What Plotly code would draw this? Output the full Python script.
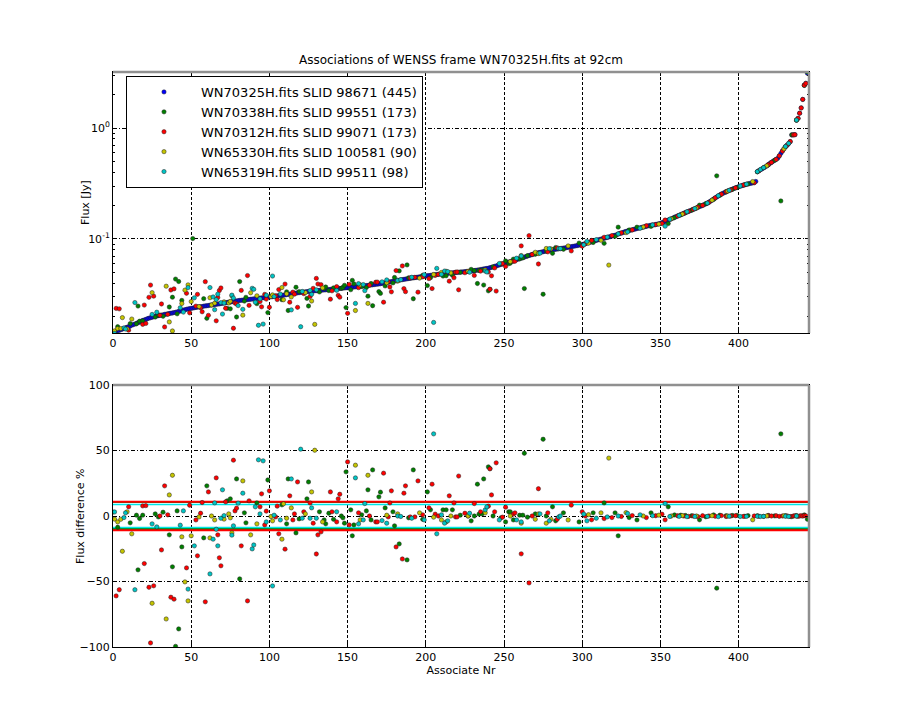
import math
import plotly.graph_objects as go

# ---------------- data ----------------
# Flux [Jy] of the WENSS frame sources (sorted), associate number = index
main_flux = [
    0.0143, 0.0145, 0.0147, 0.0149, 0.0150, 0.0152, 0.0154, 0.0156, 0.0158, 0.0160,
    0.0162, 0.0164, 0.0167, 0.0169, 0.0171, 0.0173, 0.0176, 0.0178, 0.0181, 0.0184,
    0.0186, 0.0188, 0.0191, 0.0193, 0.0195, 0.0197, 0.0199, 0.0201, 0.0202, 0.0204,
    0.0205, 0.0206, 0.0207, 0.0209, 0.0210, 0.0211, 0.0213, 0.0214, 0.0215, 0.0217,
    0.0218, 0.0220, 0.0222, 0.0224, 0.0226, 0.0228, 0.0230, 0.0232, 0.0234, 0.0235,
    0.0237, 0.0238, 0.0240, 0.0241, 0.0243, 0.0244, 0.0245, 0.0246, 0.0248, 0.0249,
    0.0250, 0.0251, 0.0253, 0.0254, 0.0255, 0.0256, 0.0258, 0.0259, 0.0260, 0.0262,
    0.0263, 0.0265, 0.0266, 0.0268, 0.0269, 0.0270, 0.0272, 0.0273, 0.0275, 0.0276,
    0.0278, 0.0279, 0.0280, 0.0281, 0.0282, 0.0283, 0.0284, 0.0285, 0.0286, 0.0287,
    0.0288, 0.0289, 0.0290, 0.0292, 0.0293, 0.0294, 0.0295, 0.0296, 0.0298, 0.0299,
    0.0300, 0.0301, 0.0302, 0.0304, 0.0305, 0.0307, 0.0308, 0.0309, 0.0310, 0.0312,
    0.0313, 0.0315, 0.0316, 0.0318, 0.0320, 0.0322, 0.0323, 0.0325, 0.0327, 0.0328,
    0.0330, 0.0331, 0.0332, 0.0334, 0.0335, 0.0336, 0.0337, 0.0338, 0.0340, 0.0341,
    0.0342, 0.0343, 0.0344, 0.0345, 0.0346, 0.0347, 0.0348, 0.0349, 0.0350, 0.0351,
    0.0352, 0.0353, 0.0354, 0.0356, 0.0357, 0.0358, 0.0359, 0.0360, 0.0362, 0.0363,
    0.0364, 0.0365, 0.0366, 0.0368, 0.0369, 0.0370, 0.0371, 0.0373, 0.0374, 0.0376,
    0.0377, 0.0378, 0.0380, 0.0381, 0.0383, 0.0385, 0.0386, 0.0388, 0.0390, 0.0391,
    0.0393, 0.0395, 0.0397, 0.0400, 0.0402, 0.0405, 0.0408, 0.0410, 0.0413, 0.0415,
    0.0418, 0.0420, 0.0423, 0.0425, 0.0428, 0.0430, 0.0432, 0.0435, 0.0437, 0.0440,
    0.0442, 0.0444, 0.0446, 0.0448, 0.0450, 0.0453, 0.0455, 0.0457, 0.0459, 0.0462,
    0.0464, 0.0466, 0.0468, 0.0470, 0.0472, 0.0474, 0.0476, 0.0478, 0.0480, 0.0482,
    0.0484, 0.0486, 0.0487, 0.0489, 0.0490, 0.0492, 0.0494, 0.0495, 0.0497, 0.0498,
    0.0500, 0.0501, 0.0503, 0.0504, 0.0506, 0.0507, 0.0509, 0.0510, 0.0512, 0.0513,
    0.0515, 0.0518, 0.0521, 0.0524, 0.0527, 0.0530, 0.0533, 0.0536, 0.0539, 0.0542,
    0.0545, 0.0550, 0.0555, 0.0560, 0.0566, 0.0571, 0.0577, 0.0583, 0.0589, 0.0594,
    0.0600, 0.0606, 0.0612, 0.0618, 0.0625, 0.0631, 0.0638, 0.0645, 0.0651, 0.0658,
    0.0665, 0.0672, 0.0679, 0.0686, 0.0694, 0.0701, 0.0709, 0.0716, 0.0724, 0.0732,
    0.0740, 0.0745, 0.0751, 0.0756, 0.0762, 0.0767, 0.0773, 0.0778, 0.0784, 0.0789,
    0.0795, 0.0799, 0.0803, 0.0807, 0.0811, 0.0815, 0.0819, 0.0823, 0.0827, 0.0831,
    0.0835, 0.0840, 0.0846, 0.0851, 0.0857, 0.0862, 0.0868, 0.0873, 0.0879, 0.0884,
    0.0890, 0.0898, 0.0907, 0.0916, 0.0925, 0.0934, 0.0943, 0.0952, 0.0961, 0.0970,
    0.0980, 0.0988, 0.0997, 0.1006, 0.1015, 0.1024, 0.1033, 0.1042, 0.1051, 0.1060,
    0.107, 0.108, 0.109, 0.111, 0.112, 0.113, 0.114, 0.116, 0.117, 0.118,
    0.119, 0.120, 0.121, 0.122, 0.123, 0.124, 0.125, 0.126, 0.127, 0.128,
    0.129, 0.130, 0.131, 0.132, 0.133, 0.134, 0.134, 0.135, 0.136, 0.137,
    0.138, 0.140, 0.142, 0.144, 0.146, 0.148, 0.150, 0.152, 0.154, 0.157,
    0.159, 0.161, 0.163, 0.166, 0.168, 0.170, 0.173, 0.175, 0.177, 0.180,
    0.182, 0.185, 0.187, 0.190, 0.193, 0.196, 0.198, 0.201, 0.204, 0.207,
    0.210, 0.214, 0.219, 0.224, 0.229, 0.234, 0.239, 0.244, 0.249, 0.254,
    0.258, 0.262, 0.266, 0.270, 0.274, 0.277, 0.281, 0.285, 0.289, 0.292,
    0.296, 0.299, 0.302, 0.305, 0.308, 0.311, 0.314, 0.316, 0.318, 0.320,
    0.322, 0.330, 0.404, 0.412, 0.421, 0.429, 0.438, 0.447, 0.456, 0.468,
    0.480, 0.490, 0.501, 0.512, 0.522, 0.533, 0.560, 0.590, 0.620, 0.650,
    0.680, 0.700, 0.725, 0.753, 0.865, 0.868, 0.872, 1.18, 1.22, 1.36,
    1.52, 1.81, 2.44, 2.53, 3.11,
]

# Associated sources from the overlapping frames: associate nr and flux difference %
green_nr = [3, 11, 15, 16, 17, 19, 27, 29, 32, 36, 38, 40, 41, 42, 44, 51, 58, 60, 73, 75, 79, 81, 84, 85, 92, 99,
            108, 111, 112, 117, 119, 124, 125, 132, 135, 136, 138, 141, 146, 147, 148, 149, 152, 153, 154, 159,
            162, 163, 165, 166, 170, 171, 174, 179, 180, 183, 188, 189, 192, 198,
            201, 203, 211, 213, 217, 222, 229, 231, 233, 234, 236, 237, 240, 241, 243, 248, 251, 253, 254, 256,
            260, 262, 263, 265, 270, 275, 277, 281, 283, 288, 298,
            307, 314, 321, 323, 330, 335, 344, 355, 359, 363, 366, 370, 375, 379, 384, 386, 388, 392, 396, 399,
            404, 406, 412, 416, 419, 423, 427, 430, 434, 437, 442, 444]
green_diff = [-8.6, -5.2, 0.6, -41.1, -1.9, 0.6, 1.6, -0.7, 2.9, -14.4, -38.8, -99.5, 3.9, -86.2, -23.6, -324.0,
              -16.7, 23.0, 11.6, 13.1, 28.3, -48.0, 2.4, -5.2, 10.0, 27.5,
              8.5, -6.0, 28.3, -12.9, -2.2, 13.1, 26.0, 3.2, -3.0, -6.0, 2.1, -2.5, 0.0, -1.4, -5.5, 33.7, 4.7,
              -15.1, -6.8, 0.9, 3.9, 20.0, -3.0, 35.2, 14.6, 18.2, 6.2, 3.2, -7.5, -21.3, -33.5, -1.4, 35.2, -2.5,
              18.4, 4.7, 4.7, 4.7, 4.7, 0.6, -3.7, 0.0, 24.3, 1.4, 1.6, 28.3, 37.5, 36.2, 0.0, -1.4, -4.5, 3.2,
              3.2, -3.0, 0.6, 0.6, 47.9, -0.9, 1.6, 58.6, 0.0, 7.0, -3.7, 2.4, -4.5,
              2.4, 10.0, 2.4, -15.1, -1.2, -3.0, 2.4, 7.0, 0.8, 0.6, 0.4, 0.2, -2.9, -0.6, 0.8, -55.1, 0.6, 0.2,
              0.4, 0.5, -0.2, 0.3, 0.2, -0.3, 0.4, 0.1, 62.7, 0.2, -0.5, 0.3, 0.8, -2.5]

red_nr = [2, 4, 10, 19, 20, 21, 23, 24, 26, 30, 31, 33, 35, 37, 39, 47, 49, 53, 54, 56, 57, 59, 61, 66, 67, 68,
          69, 72, 77, 78, 79, 82, 86, 87, 94, 95, 97, 98, 100,
          104, 105, 106, 110, 113, 115, 116, 118, 122, 126, 128, 130, 131, 133, 139, 140, 143, 144, 145, 150,
          151, 157, 164, 168, 169, 173, 176, 177, 178, 181, 185, 186, 187, 190, 193, 195, 198,
          202, 204, 206, 208, 215, 218, 219, 220, 221, 225, 227, 231, 235, 240, 241, 242, 244, 245, 249, 251,
          256, 257, 261, 266, 268, 272, 278, 284, 293, 300,
          302, 306, 314, 319, 325, 332, 341, 347, 351, 353, 361, 365, 368, 371, 374, 377, 381, 385, 389, 392,
          395, 398, 403, 410, 413, 419, 421, 424, 426, 428, 431, 433, 435, 436, 438, 439, 440, 441, 442, 443]
red_diff = [-61.0, -56.3, 7.0, 7.7, -36.3, 7.9, -54.4, -96.9, -53.3, 0.0, -25.9, 23.0, 0.9, -62.0, -63.5, -39.6,
            8.2, -3.0, -30.4, 2.1, 10.3, -65.5, 18.4, 29.1, -14.4, -31.9, -38.0, 10.8, 42.6, 3.9, 6.0, -22.8,
            -64.8, 11.6, 7.0, 16.9, -6.8, 3.7, 19.2,
            -0.7, 7.5, -13.6, -25.3, 15.4, -3.0, 1.6, 26.0, 3.2, 10.0, -5.5, -29.0, -14.4, -12.1, 18.4, 3.2,
            -4.5, 13.1, 16.6, 41.3, -6.8, 2.4, 0.0, -4.5, -4.5, 32.7, -0.7, 10.0, 19.2, -23.6, -32.8, 17.4,
            23.0, -0.7, -0.7, 26.8, 0.9,
            6.2, 24.3, 1.4, 0.0, 15.4, 10.0, -0.7, -0.7, 30.5, 2.1, 0.0, 9.5, 3.2, 7.5, 36.0, 16.1, 3.2, 40.6,
            -0.9, 6.7, 1.4, 2.4, -28.9, -51.1, 0.0, 20.8, 2.4, -2.5, 8.3, 3.2,
            0.0, -2.9, -2.0, -1.2, -0.4, 0.3, -1.2, 0.2, 1.4, -2.9, 0.2, 0.0, -0.3, 0.0, -0.5, 0.2, 0.0, -0.2,
            0.3, -0.4, 0.0, 0.2, -0.3, 0.0, -0.2, 0.2, 0.0, 0.2, -0.3, 0.0, 0.1, -0.4, 0.0, 0.2, -0.3, 0.0,
            0.2, -0.1, 0.3, 0.1]

yellow_nr = [0, 1, 3, 5, 6, 9, 12, 25, 34, 36, 38, 44, 46, 48, 50, 55, 62, 63, 65, 71, 74, 75, 76, 83, 88, 92,
             101, 102, 108, 109, 111, 114, 123, 127, 129, 134, 155, 158, 163, 175, 182, 196,
             205, 210, 213, 216, 227, 238, 254, 261, 270, 272, 277, 280, 291,
             304, 312, 317, 328, 339, 349, 357, 364, 373, 383, 393, 409, 418, 429, 437]
yellow_diff = [3.0, -2.4, -4.5, -2.5, -26.9, 3.2, -13.6, -66.6, -78.6, 16.1, 31.1, -15.9, -50.3, -64.8, -15.1,
               -0.7, -16.7, 0.0, -3.0, -2.4, 1.6, -1.4, -12.9, 26.8, -14.4, -6.0,
               -0.4, -3.7, -17.7, 9.3, -1.7, 6.2, 1.6, 18.4, 50.2, -4.5, 38.8, -3.0, 31.1, 0.6, 1.6, 2.4,
               -0.9, -3.0, -4.5, 0.0, 0.0, 2.4, 0.0, -5.5, -2.5, 1.6, -5.5, -2.5, -3.0,
               1.0, 2.4, 44.2, 2.6, 0.0, 0.6, 0.0, 0.3, 0.0, 0.2, 0.0, -2.9, 0.0, 0.2, 0.0]

cyan_nr = [1, 7, 8, 14, 25, 28, 43, 45, 48, 52, 62, 64, 65, 66, 67, 69, 70, 71, 76, 77, 80, 83, 89, 90, 91, 93,
           94, 96, 98, 102, 103,
           107, 114, 120, 121, 126, 127, 130, 143, 155, 157, 160, 161, 172, 175, 182, 184, 191, 199,
           205, 207, 210, 212, 214, 228, 238, 239, 247, 258, 261, 273, 279, 285, 286, 301,
           303, 309, 316, 323, 329, 337, 345, 353, 356, 362, 367, 372, 380, 387, 394, 401, 405, 412, 414, 416,
           430, 432, 437]
cyan_diff = [3.1, -1.2, 2.4, -56.3, -6.0, -8.3, -7.0, 3.9, -55.8, -22.8, -44.2, -17.7, 10.0, -10.1, -22.8,
             -1.7, 20.0, 0.3, -14.6, -7.5, 9.8, 17.4, -25.1, -22.1, 7.0, 42.9, 1.6, 42.1, -4.5, -53.4, 0.6,
             -3.0, 28.3, 51.0, -1.7, -1.7, 6.2, -1.7, 3.2, 29.1, -6.0, -3.0, 9.5, -3.5, -5.5, 0.0, -0.4, -1.7,
             -3.0,
             62.7, -13.6, 0.9, -5.5, -3.7, 2.1, 4.7, 7.0, -3.0, -3.0, -4.5, 1.6, -3.7, -0.7, 0.0, 1.4,
             -3.7, -1.7, -0.7, 0.0, 1.9, 0.9, 0.2, 9.5, -0.4, -0.3, -0.5, -0.4, -0.3, -0.5, -0.2, -0.4, -0.3,
             -0.2, -0.4, -0.3, -0.2, -0.4, 0.0]

series_labels = [
    "WN70325H.fits SLID 98671 (445)",
    "WN70338H.fits SLID 99551 (173)",
    "WN70312H.fits SLID 99071 (173)",
    "WN65330H.fits SLID 100581 (90)",
    "WN65319H.fits SLID 99511 (98)",
]
series_colors = ["#0000ff", "#008000", "#ff0000", "#c4c400", "#00c4c4"]

# limit lines in the difference panel (%)
limit_green = [-9.9, 10.6]
limit_red = [-10.9, 10.8]
limit_cyan = [-8.8, 8.8]

x_ticks = [0, 50, 100, 150, 200, 250, 300, 350, 400]
flux_ticks = [0.1, 1.0]
flux_ticktext = ["10<sup>-1</sup>", "10<sup>0</sup>"]
diff_ticks = [-100, -50, 0, 50, 100]
flux_axis_limits = [0.0142, 3.2]
diff_axis_limits = [-100, 100]

# ---------------- figure ----------------
FONT = "DejaVu Sans"
assoc_nr = list(range(len(main_flux)))


def assoc_flux(nrs, diffs):
    # difference % = (reference flux - associated flux) / reference flux * 100
    return [main_flux[n] * (1.0 - d / 100.0) for n, d in zip(nrs, diffs)]


def mk(color):
    return dict(color=color, size=4.3, line=dict(color="#202020", width=0.5))


fig = go.Figure()

fig.add_trace(go.Scatter(x=assoc_nr, y=main_flux, mode="markers", marker=mk(series_colors[0]),
                         name=series_labels[0], xaxis="x", yaxis="y"))

sec = [(green_nr, green_diff), (red_nr, red_diff), (yellow_nr, yellow_diff), (cyan_nr, cyan_diff)]
for (nrs, diffs), lab, col in zip(sec, series_labels[1:], series_colors[1:]):
    fig.add_trace(go.Scatter(x=nrs, y=assoc_flux(nrs, diffs), mode="markers", marker=mk(col),
                             name=lab, xaxis="x", yaxis="y"))

span = [0, len(main_flux)]
for lims, col, w in [(limit_green, series_colors[1], 2), (limit_red, series_colors[2], 2),
                     (limit_cyan, "#00e6e6", 1.5)]:
    for v in lims:
        fig.add_trace(go.Scatter(x=span, y=[v, v], mode="lines", line=dict(color=col, width=w),
                                 showlegend=False, hoverinfo="skip", xaxis="x2", yaxis="y2"))

for (nrs, diffs), col in zip(sec, series_colors[1:]):
    fig.add_trace(go.Scatter(x=nrs, y=diffs, mode="markers", marker=mk(col), showlegend=False,
                             xaxis="x2", yaxis="y2"))

axis_common = dict(showline=True, linecolor="black", linewidth=1, mirror="ticks", ticks="inside",
                   ticklen=4, tickcolor="black", tickfont=dict(family=FONT, size=11, color="black"),
                   showgrid=True, gridcolor="black", gridwidth=1, zeroline=False)

fig.update_layout(
    width=900, height=720,
    margin=dict(l=113, r=91, t=72, b=73),
    paper_bgcolor="white", plot_bgcolor="white",
    font=dict(family=FONT, size=11, color="black"),
    title=dict(text="Associations of WENSS frame WN70325H.fits at 92cm", x=0.5, xref="paper",
               y=1 - 60 / 720, yanchor="middle", font=dict(family=FONT, size=12, color="black")),
    showlegend=True,
    legend=dict(x=(126 - 113) / 696, y=(647 - 76) / 575, xanchor="left", yanchor="top",
                bgcolor="white", bordercolor="black", borderwidth=1,
                font=dict(family=FONT, size=13, color="black"), itemwidth=64, tracegroupgap=0),
    xaxis=dict(axis_common, domain=[0, 1], range=[0, len(main_flux)], anchor="y", tickvals=x_ticks,
               griddash="3px,2px"),
    yaxis=dict(axis_common, domain=[(647 - 333) / 575, 1], type="log",
               range=[math.log10(flux_axis_limits[0]), math.log10(flux_axis_limits[1])],
               anchor="x", tickvals=flux_ticks, ticktext=flux_ticktext, griddash="4px,2px,1px,2px",
               minor=dict(ticks="inside", ticklen=2, tickcolor="black", showgrid=False,
                          tickvals=[m * 10 ** e for e in (-2, -1, 0) for m in range(2, 10)])),
    xaxis2=dict(axis_common, domain=[0, 1], range=[0, len(main_flux)], anchor="y2", tickvals=x_ticks,
                griddash="3px,2px",
                title=dict(text="Associate Nr", standoff=0, font=dict(family=FONT, size=11))),
    yaxis2=dict(axis_common, domain=[0, 262 / 575], range=diff_axis_limits, anchor="x2",
                tickvals=diff_ticks, griddash="4px,2px,1px,2px"),
)

# y-axis titles placed like the reference
fig.add_annotation(text="Flux [Jy]", xref="paper", yref="paper", x=(85 - 113) / 696,
                   y=(647 - 203) / 575, textangle=-90, showarrow=False, xanchor="center",
                   yanchor="middle", font=dict(family=FONT, size=11, color="black"))
fig.add_annotation(text="Flux difference %", xref="paper", yref="paper", x=(80 - 113) / 696,
                   y=(647 - 516) / 575, textangle=-90, showarrow=False, xanchor="center",
                   yanchor="middle", font=dict(family=FONT, size=11, color="black"))

# grey top/right frame edges as in the reference
for xr, yr in [("x domain", "y domain"), ("x2 domain", "y2 domain")]:
    fig.add_shape(type="line", xref=xr, yref=yr, x0=0, x1=1, y0=1, y1=1,
                  line=dict(color="#909090", width=2.5))
    fig.add_shape(type="line", xref=xr, yref=yr, x0=1, x1=1, y0=0, y1=1,
                  line=dict(color="#909090", width=2.5))

fig.write_html("out.html")
